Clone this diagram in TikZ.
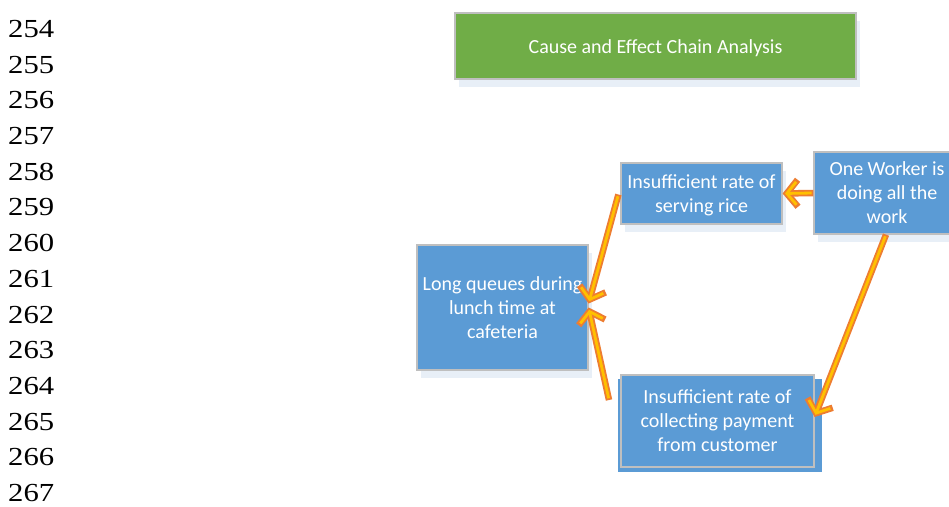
\documentclass[tikz,border=0pt]{standalone}
\usepackage{fontspec}
\newfontfamily\calibri{Carlito}
\newfontfamily\timesf{Liberation Serif}
\usetikzlibrary{arrows.meta,calc,shadows}
\definecolor{boxblue}{HTML}{5B9BD5}
\definecolor{boxgreen}{HTML}{70AD47}
\definecolor{edgegray}{HTML}{BFBFBF}
\definecolor{arrorange}{HTML}{ED7D31}
\definecolor{arryellow}{HTML}{FFC000}
\definecolor{shadowblue}{HTML}{E8EFF7}
\newcommand\chainarrow[2]{%
  \draw[arrout] #1 -- #2;
  \draw[arrin] #1 -- #2;}
\begin{document}
\begin{tikzpicture}[x=1pt,y=-1pt,
  basebox/.style={draw=edgegray, line width=1.2pt, text=white,
    font=\calibri\fontsize{20}{24}\selectfont, align=center, inner sep=0pt},
  bluebox/.style={basebox, fill=boxblue},
  greenbox/.style={basebox, fill=boxgreen},
  shad/.style={drop shadow={shadow xshift=4pt, shadow yshift=-8pt, fill=shadowblue, opacity=1}},
  lineno/.style={font=\timesf\fontsize{26}{26}\selectfont, anchor=west, inner sep=0pt},
  arrout/.style={draw=arrorange, line width=6.5pt, -{Straight Barb[length=11pt,width=27pt]}},
  arrin/.style={draw=arryellow, line width=2.8pt, shorten >=2.4pt, shorten <=1.8pt,
    -{Straight Barb[length=9.5pt,width=23pt]}}]
\useasboundingbox (0,0) rectangle (949,506);
\clip (0,0) rectangle (949,506);
\fill[white] (0,0) rectangle (949,506);

% line numbers
\foreach \n [count=\i from 0] in {254,...,267}
  \node[lineno] (ln\n) at (8,{29+35.7*\i}) {\scalebox{1.18}[1]{\n}};

% title
\node[greenbox, shad, minimum width=401pt, minimum height=66pt, text height=18pt] (title) at (655.5,46)
  {Cause and Effect Chain Analysis};

% boxes
\node[bluebox, shad, minimum width=161pt, minimum height=61pt, text depth=0pt] (A) at (701.5,193.5)
  {Insufficient rate of\\serving rice};
\node[bluebox, shad, minimum width=146pt, minimum height=82pt] (B) at (887,193)
  {One Worker is\\doing all the\\work};
\node[bluebox, shad, minimum width=171pt, minimum height=125pt] (C) at (502.5,307.5)
  {Long queues during\\lunch time at\\cafeteria};
\fill[boxblue] (618,379) rectangle (822,472);
\node[bluebox, minimum width=193pt, minimum height=92pt] (D) at (717.5,421)
  {Insufficient rate of\\collecting payment\\from customer};

\coordinate (dfree) at (609,400);

% arrows
\chainarrow{(B.west)}{(A.east)}
\chainarrow{([xshift=-2pt,yshift=-1pt]A.west)}{([yshift=4pt]C.east)}
\chainarrow{(dfree)}{(C.east)}
\chainarrow{([xshift=-1pt]B.south)}{([yshift=4pt]D.east)}
\end{tikzpicture}
\end{document}
